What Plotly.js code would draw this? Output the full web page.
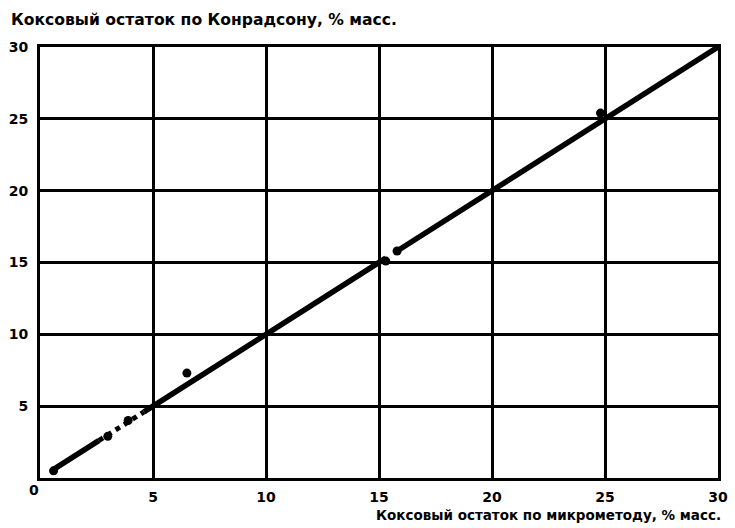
<!DOCTYPE html>
<html><head><meta charset="utf-8">
<script src="https://cdn.plot.ly/plotly-3.0.1.min.js"></script>
<style>body{margin:0;background:#fff}#c{width:735px;height:528px}</style>
</head><body><div id="c"></div>
<script>
// measured points (micromethod, Conradson)
const ptsX = [0.6, 3.0, 3.9, 6.5, 15.3, 15.8, 24.8];
const ptsY = [0.5, 2.9, 4.0, 7.3, 15.1, 15.8, 25.4];
// fitted line y = x, solid segments and dotted gap
const lineSolidX = [0.6, 2.6, null, 4.6, 15.3, null, 15.8, 30];
const lineDotX = [2.6, 4.6];
const ticks = [5, 10, 15, 20, 25, 30];
const yTitle = "Коксовый остаток по Конрадсону, % масс.";
const xTitle = "Коксовый остаток по микрометоду, % масс.";

const fam = "DejaVu Sans, Arial, sans-serif";
const font = {family: fam, size: 14, color: "#000", weight: 700};
const traces = [
  {x: lineSolidX, y: lineSolidX, mode: "lines", line: {color: "#000", width: 5.5}, hoverinfo: "skip"},
  {x: lineDotX, y: lineDotX, mode: "lines", line: {color: "#000", width: 5, dash: "dot"}, hoverinfo: "skip"},
  {x: ptsX, y: ptsY, mode: "markers", marker: {color: "#000", size: 9}}
];
const axis = {range: [0, 30], tickvals: ticks, showgrid: true, gridcolor: "#000", gridwidth: 3,
  showline: true, linecolor: "#000", linewidth: 3, mirror: true, zeroline: false, ticks: "",
  tickfont: font, fixedrange: true};
const layout = {
  width: 735, height: 528, showlegend: false,
  margin: {l: 40, r: 17, t: 47, b: 50},
  paper_bgcolor: "#fff", plot_bgcolor: "#fff",
  xaxis: Object.assign({}, axis, {ticklabelstandoff: 4}),
  yaxis: Object.assign({}, axis, {ticklabelstandoff: 6}),
  annotations: [
    {text: yTitle, xref: "paper", yref: "paper", x: -0.058, y: 1.0, yshift: 27, xshift: 8, xanchor: "left", yanchor: "middle", showarrow: false, font: Object.assign({}, font, {size: 15.6})},
    {text: xTitle, xref: "paper", yref: "paper", x: 1.0, y: 0, yshift: -37, xshift: 5, xanchor: "right", yanchor: "middle", showarrow: false, font: Object.assign({}, font, {size: 13.5})},
    {text: "0", xref: "paper", yref: "paper", x: 0, y: 0, xshift: -6, yshift: -12, xanchor: "center", yanchor: "middle", showarrow: false, font: font}
  ]
};
Plotly.newPlot("c", traces, layout, {displayModeBar: false, staticPlot: true});
</script></body></html>
